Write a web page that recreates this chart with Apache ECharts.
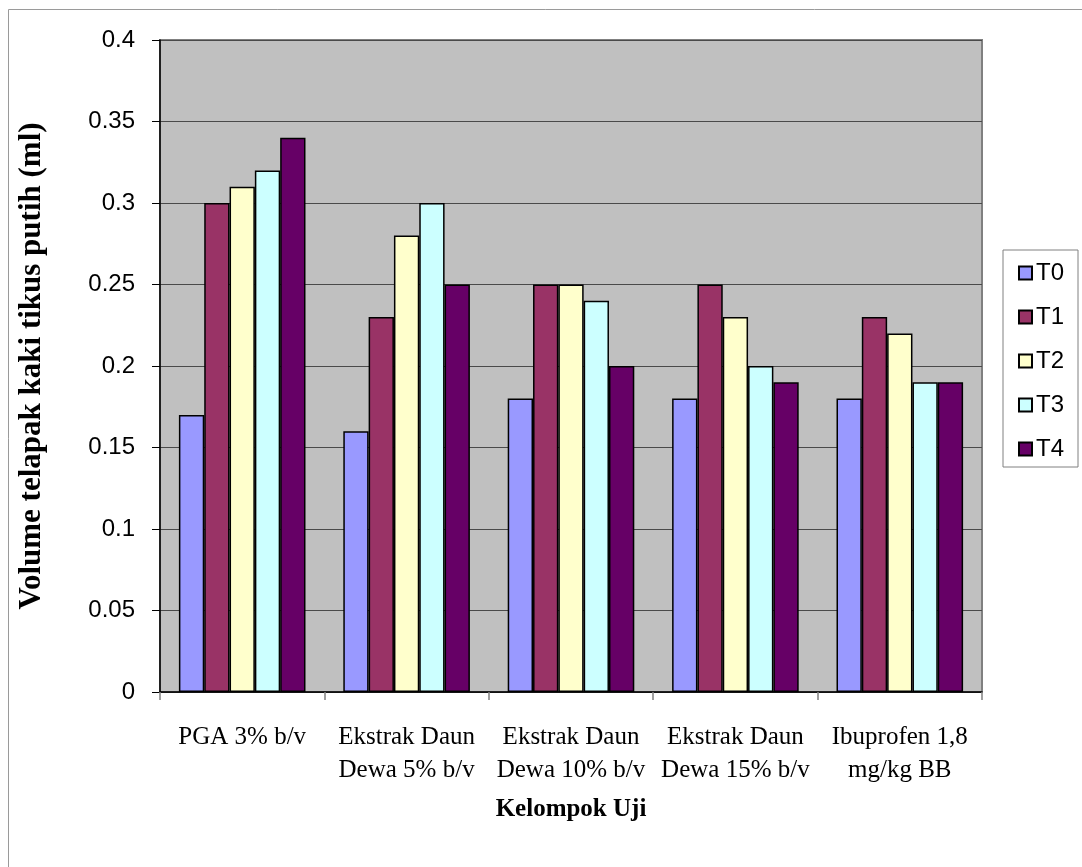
<!DOCTYPE html>
<html>
<head>
<meta charset="utf-8">
<script src="https://cdn.jsdelivr.net/npm/echarts@6/dist/echarts.min.js"></script>
<style>
  html, body { margin: 0; padding: 0; background: #fff; }
  #chart { width: 1082px; height: 867px; }
</style>
</head>
<body>
<div id="chart"></div>
<script>
// Groups tested (x axis)
const categories = [
  'PGA 3% b/v',
  'Ekstrak Daun\nDewa 5% b/v',
  'Ekstrak Daun\nDewa 10% b/v',
  'Ekstrak Daun\nDewa 15% b/v',
  'Ibuprofen 1,8\nmg/kg BB'
];

// Paw volume (ml) per time point
const T0 = [0.17, 0.16, 0.18, 0.18, 0.18];
const T1 = [0.30, 0.23, 0.25, 0.25, 0.23];
const T2 = [0.31, 0.28, 0.25, 0.23, 0.22];
const T3 = [0.32, 0.30, 0.24, 0.20, 0.19];
const T4 = [0.34, 0.25, 0.20, 0.19, 0.19];

const seriesNames = ['T0', 'T1', 'T2', 'T3', 'T4'];
const seriesData = [T0, T1, T2, T3, T4];
const seriesColors = ['#9999FF', '#993366', '#FFFFCC', '#CCFFFF', '#660066'];

const chart = echarts.init(document.getElementById('chart'));

const series = seriesNames.map((name, i) => ({
  name: name,
  type: 'bar',
  data: seriesData[i],
  barGap: '0%',
  barCategoryGap: '23%',
  itemStyle: {
    color: seriesColors[i],
    borderColor: '#000',
    borderWidth: 1.5
  },
  emphasis: { disabled: true }
}));

chart.setOption({
  animation: false,
  backgroundColor: '#fff',
  graphic: [{
    type: 'rect',
    shape: { x: 8.5, y: 9.5, width: 1100, height: 900 },
    style: { fill: 'none', stroke: '#9a9a9a', lineWidth: 1 },
    silent: true,
    z: -10
  }],
  grid: {
    left: 160,
    right: 100,
    top: 40,
    bottom: 175,
    show: true,
    backgroundColor: '#C0C0C0',
    borderColor: '#808080',
    borderWidth: 2
  },
  legend: {
    orient: 'vertical',
    left: 1003,
    top: 250,
    data: seriesNames,
    itemWidth: 13,
    itemHeight: 13,
    itemGap: 20,
    padding: [11, 14, 6, 15],
    borderColor: '#808080',
    borderWidth: 1,
    backgroundColor: '#fff',
    icon: 'rect',
    textStyle: {
      fontFamily: 'Liberation Sans',
      fontSize: 24,
      color: '#000',
      padding: [0, 0, 0, -1]
    }
  },
  xAxis: {
    type: 'category',
    data: categories,
    name: 'Kelompok Uji',
    nameLocation: 'middle',
    nameGap: 105,
    nameTextStyle: {
      fontFamily: 'Liberation Serif',
      fontWeight: 'bold',
      fontSize: 25,
      color: '#000'
    },
    axisLine: { lineStyle: { color: '#000', width: 1.5 } },
    axisTick: { show: true, length: 8, lineStyle: { color: '#808080', width: 1.5 } },
    axisLabel: {
      interval: 0,
      margin: 29,
      fontFamily: 'Liberation Serif',
      fontSize: 25,
      lineHeight: 33,
      color: '#000'
    }
  },
  yAxis: {
    type: 'value',
    min: 0,
    max: 0.4,
    interval: 0.05,
    name: 'Volume telapak kaki tikus putih (ml)',
    nameLocation: 'middle',
    nameGap: 113,
    nameTextStyle: {
      fontFamily: 'Liberation Serif',
      fontWeight: 'bold',
      fontSize: 31,
      color: '#000'
    },
    axisLine: { show: true, lineStyle: { color: '#000', width: 1.5 } },
    axisTick: { show: true, length: 8, lineStyle: { color: '#000', width: 1 } },
    axisLabel: {
      margin: 25,
      fontFamily: 'Liberation Sans',
      fontSize: 24,
      color: '#000'
    },
    splitLine: { show: true, lineStyle: { color: '#4a4a4a', width: 1 } }
  },
  series: series
});
</script>
</body>
</html>
